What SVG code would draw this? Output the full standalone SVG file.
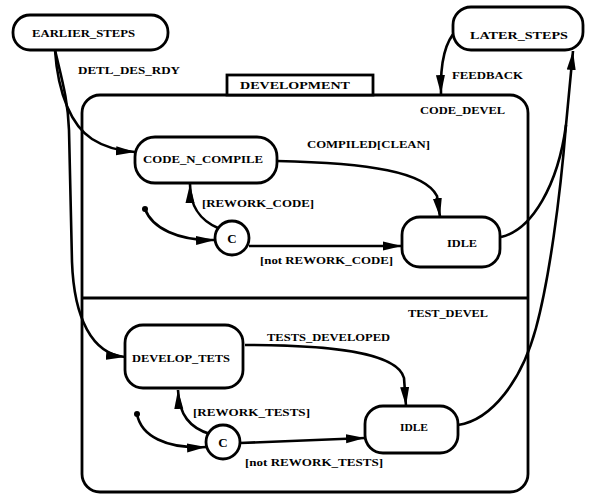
<svg xmlns="http://www.w3.org/2000/svg" width="592" height="495" viewBox="0 0 592 495">
<defs>
<style>
.box{fill:none;stroke:#000;stroke-width:2.8}
.st{fill:#fff;stroke:#000;stroke-width:2.8}
.ln{fill:none;stroke:#000;stroke-width:2.6}
.arr{fill:none;stroke:#000;stroke-width:2.6;marker-end:url(#ah)}
text{font-family:"Liberation Serif","Times New Roman",serif;font-weight:bold;font-size:11px;fill:#000}
.mid{text-anchor:middle;font-size:13px}
</style>
<marker id="ah" markerUnits="userSpaceOnUse" markerWidth="20" markerHeight="10" refX="19" refY="5" orient="auto">
<path d="M0,0.5 L19,5 L0,9.5 z" fill="#000"/>
</marker>
</defs>
<rect width="592" height="495" fill="#fff"/>

<g id="development">
<rect class="box" x="82" y="95" width="446" height="397" rx="18"/>
<rect class="st" x="227" y="75" width="146" height="20"/>
<text x="240" y="89" textLength="110" lengthAdjust="spacingAndGlyphs">DEVELOPMENT</text>
<line class="box" x1="82" y1="298" x2="528" y2="298"/>
</g>
<g id="code_devel"><text x="420" y="114" textLength="85" lengthAdjust="spacingAndGlyphs">CODE_DEVEL</text></g>
<g id="test_devel"><text x="408" y="317" textLength="80" lengthAdjust="spacingAndGlyphs">TEST_DEVEL</text></g>

<g id="connectors">
<path class="arr" d="M55,50 C58,95 72,126 92,139 C106,148 120,151 135,152"/>
<path class="arr" d="M55,50 C62,80 68,100 69,130 L72,262 C74,318 92,354 125,357"/>
<path class="arr" d="M277,161 C370,163 425,172 437,196 L440,217"/>
<path class="arr" d="M145,209 C152,228 178,241 215,240"/>
<path class="arr" d="M218,228 C200,220 190,207 190,184"/>
<path class="arr" d="M249,246 L402,246"/>
<path class="arr" d="M501,237 C532,230 558,185 566,125 L573,51"/>
<path class="ln" d="M458,425 C492,420 522,380 536,328 C549,280 560,200 566,125"/>
<path class="arr" d="M457,30 C446,40 440,60 441,94"/>
<path class="arr" d="M245,345 C330,345 397,352 404,378 L406,406"/>
<path class="arr" d="M137,414 C141,436 166,449 206,447"/>
<path class="arr" d="M210,434 C190,428 179,415 178,390"/>
<path class="arr" d="M240,443 L365,438"/>
<circle cx="145" cy="209" r="3" fill="#000"/>
<circle cx="137" cy="414" r="3" fill="#000"/>
<text x="78" y="74" textLength="102" lengthAdjust="spacingAndGlyphs">DETL_DES_RDY</text>
<text x="452" y="79" textLength="71" lengthAdjust="spacingAndGlyphs">FEEDBACK</text>
<text x="307" y="148" textLength="123" lengthAdjust="spacingAndGlyphs">COMPILED[CLEAN]</text>
<text x="202" y="207" textLength="112" lengthAdjust="spacingAndGlyphs">[REWORK_CODE]</text>
<text x="260" y="264" textLength="133" lengthAdjust="spacingAndGlyphs">[not REWORK_CODE]</text>
<text x="267" y="341" textLength="123" lengthAdjust="spacingAndGlyphs">TESTS_DEVELOPED</text>
<text x="193" y="416" textLength="117" lengthAdjust="spacingAndGlyphs">[REWORK_TESTS]</text>
<text x="245" y="466" textLength="138" lengthAdjust="spacingAndGlyphs">[not REWORK_TESTS]</text>
</g>

<g id="earlier_steps">
<rect class="st" x="13" y="15" width="155" height="35" rx="17"/>
<text x="32" y="37" textLength="103" lengthAdjust="spacingAndGlyphs">EARLIER_STEPS</text>
</g>
<g id="later_steps">
<rect class="st" x="453" y="7" width="130" height="43" rx="18"/>
<text x="470" y="39" textLength="98" lengthAdjust="spacingAndGlyphs">LATER_STEPS</text>
</g>
<g id="code_n_compile">
<rect class="st" x="135" y="137" width="142" height="46" rx="20"/>
<text x="143" y="163" textLength="120" lengthAdjust="spacingAndGlyphs">CODE_N_COMPILE</text>
</g>
<g id="idle_code">
<rect class="st" x="402" y="217" width="98" height="50" rx="18"/>
<text x="447" y="247" textLength="30" lengthAdjust="spacingAndGlyphs">IDLE</text>
</g>
<g id="cond_code">
<circle class="st" cx="232" cy="238" r="17"/>
<text class="mid" x="232" y="243">C</text>
</g>
<g id="develop_tests">
<rect class="st" x="125" y="325" width="118" height="63" rx="18"/>
<text x="132" y="362" textLength="98" lengthAdjust="spacingAndGlyphs">DEVELOP_TETS</text>
</g>
<g id="idle_test">
<rect class="st" x="365" y="406" width="93" height="47" rx="18"/>
<text x="400" y="431" textLength="28" lengthAdjust="spacingAndGlyphs">IDLE</text>
</g>
<g id="cond_test">
<circle class="st" cx="223" cy="442" r="17"/>
<text class="mid" x="223" y="447">C</text>
</g>
</svg>
